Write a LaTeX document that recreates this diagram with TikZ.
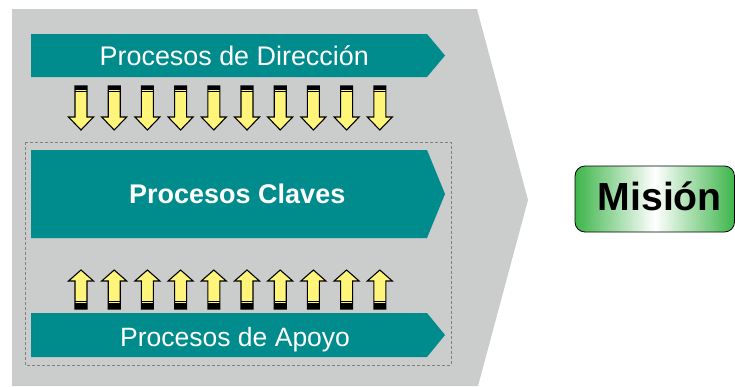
\documentclass[tikz,border=0pt]{standalone}
\usepackage{fontspec}
\setmainfont{Liberation Sans}
\usepackage{tikz}
\definecolor{fondo}{RGB}{203,204,204}
\definecolor{azul}{RGB}{0,139,141}
\definecolor{amarillo}{RGB}{255,245,122}
\definecolor{verde}{RGB}{61,181,74}

\begin{document}
\begin{tikzpicture}[x=1pt,y=-1pt, every node/.style={inner sep=0pt,anchor=base west},
  txt/.style={text=white,font=\fontsize{26.5}{30}\selectfont},
  flecha/.style={draw=black,fill=amarillo,line width=1.1pt,line join=miter}]
\useasboundingbox (0,0) rectangle (735,386);

\fill[fondo] (12,9)--(477,9)--(528,200)--(478,386)--(12,386)--cycle;
\draw[gray,densely dashed,line width=0.6pt] (25,142) rectangle (451,365);

\fill[azul] (31,34)--(427,34)--(445,55.5)--(427,77)--(31,77)--cycle;
\fill[azul] (31,150)--(427,150)--(445,194)--(427,238)--(31,238)--cycle;
\fill[azul] (31,313)--(427,313)--(445,335)--(427,357)--(31,357)--cycle;

\node[txt,font=\fontsize{26.9}{30}\selectfont] (dir) at (99.5,65) {Procesos de Dirección};
\node[txt,font=\fontsize{27}{30}\selectfont\bfseries] (clv) at (129,203) {Procesos Claves};
\node[txt] (apy) at (120,346) {Procesos de Apoyo};

% flechas hacia abajo y hacia arriba
\foreach \x in {0,...,9}{
  \begin{scope}[xshift=81+33.2*\x]
  \draw[flecha] (-6,86)--(6,86)--(6,117)--(12.5,117)--(0,130)--(-12.5,117)--(-6,117)--cycle;
  \fill (-6,86) rectangle (6,89.5);
  \draw[line width=0.8pt] (-6,91.5)--(6,91.5);
  \draw[flecha] (-6,309)--(6,309)--(6,281)--(12.5,281)--(0,270)--(-12.5,281)--(-6,281)--cycle;
  \fill (-6,303) rectangle (6,309);
  \draw[line width=0.8pt] (-6,301)--(6,301);
  \end{scope}
}

\draw[line width=0.8pt,rounded corners=10pt,left color=verde,right color=verde,middle color=white]
  (575,166) rectangle (734.5,232);
\node[font=\fontsize{39.2}{42}\selectfont\bfseries] (mis) at (597.5,210) {Misión};
\end{tikzpicture}
\end{document}
